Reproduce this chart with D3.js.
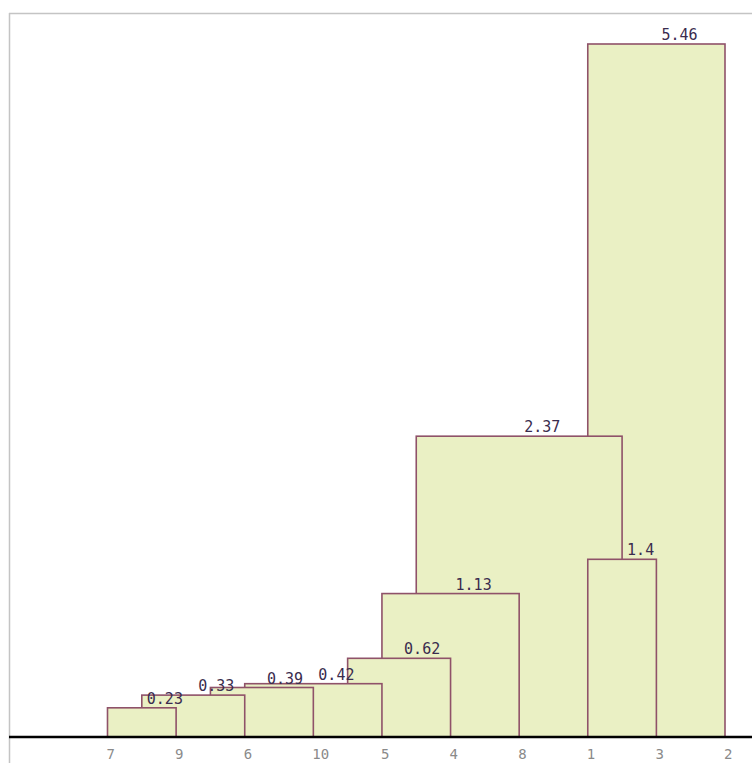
<!DOCTYPE html>
<html>
<head>
<meta charset="utf-8">
<script src="https://cdn.jsdelivr.net/npm/d3@7"></script>
<style>
  html, body { margin: 0; padding: 0; background: #fff; }
  svg { display: block; }
</style>
</head>
<body>
<svg id="chart" width="752" height="763"></svg>
<script>
// Leaves in dendrogram order (tick labels)
const leaves = ["7", "9", "6", "10", "5", "4", "8", "1", "3", "2"];
// Merge heights (drawn tallest first)
const mergeHeights = [5.46, 2.37, 1.4, 1.13, 0.62, 0.42, 0.39, 0.33, 0.23];
const mergeLabels  = ["5.46", "2.37", "1.4", "1.13", "0.62", "0.42", "0.39", "0.33", "0.23"];
// Left / right attachment of each merge, in leaf-slot units
const mergeLeftSlot  = [7, 4.5, 7, 4, 3.5, 2, 1.5, 0.5, 0];
const mergeRightSlot = [9, 7.5, 8, 6, 5, 4, 3, 2, 1];

const svg = d3.select("#chart");
const W = 752, H = 763;

const x = d3.scaleLinear().domain([0, leaves.length - 1]).range([107.5, 725]);
const y = d3.scaleLinear().domain([0, 5.46]).range([737, 44]);

// frame
svg.append("line").attr("x1", 9).attr("x2", W).attr("y1", 13.5).attr("y2", 13.5)
  .attr("stroke", "#c4c4c4").attr("stroke-width", 1.5);
svg.append("line").attr("x1", 9.5).attr("x2", 9.5).attr("y1", 13).attr("y2", H)
  .attr("stroke", "#c4c4c4").attr("stroke-width", 1.5);

const merges = mergeHeights.map((h, i) => ({
  h, label: mergeLabels[i], l: mergeLeftSlot[i], r: mergeRightSlot[i]
}));

const g = svg.append("g");
g.selectAll("rect.m").data(merges).join("rect")
  .attr("class", "m")
  .attr("x", d => x(d.l))
  .attr("y", d => y(d.h))
  .attr("width", d => x(d.r) - x(d.l))
  .attr("height", d => y(0) - y(d.h))
  .attr("fill", "#eaf0c4")
  .attr("stroke", "#8f5269")
  .attr("stroke-width", 1.6);

// baseline
svg.append("line").attr("x1", 9).attr("x2", W).attr("y1", y(0)).attr("y2", y(0))
  .attr("stroke", "#000").attr("stroke-width", 2.5);

// value labels
svg.selectAll("text.v").data(merges).join("text")
  .attr("class", "v")
  .attr("x", d => (x(d.l) + x(d.r)) / 2 + 5)
  .attr("y", d => y(d.h) - 4)
  .attr("font-family", "DejaVu Sans Mono, monospace")
  .attr("font-size", 15)
  .attr("fill", "#3a2c4e")
  .text(d => d.label);

// leaf axis
const axis = d3.axisBottom(x)
  .tickValues(d3.range(leaves.length))
  .tickFormat(i => leaves[i])
  .tickSize(0)
  .tickPadding(0);
const ax = svg.append("g").attr("transform", `translate(0,${y(0)})`).call(axis);
ax.select(".domain").remove();
ax.selectAll("text")
  .attr("text-anchor", "start")
  .attr("dx", -1.5)
  .attr("dy", 0)
  .attr("y", 21.5)
  .attr("font-family", "DejaVu Sans Mono, monospace")
  .attr("font-size", 14)
  .attr("fill", "#8a8a8a");
</script>
</body>
</html>
